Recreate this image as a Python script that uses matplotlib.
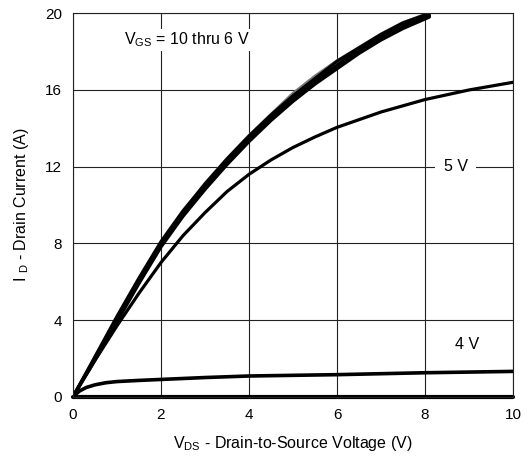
import numpy as np
import matplotlib.pyplot as plt

plt.rcParams['font.family'] = ['Liberation Sans', 'DejaVu Sans']
plt.rcParams['mathtext.fontset'] = 'custom'
plt.rcParams['mathtext.rm'] = 'Liberation Sans'
plt.rcParams['mathtext.it'] = 'Liberation Sans'

# V_DS sample points (V) and drain current curves (A)
vds_hi = [0, 0.5, 1, 1.5, 2, 2.5, 3, 3.5, 4, 4.5, 5, 5.5, 6, 6.5, 7, 7.5, 8.1]
id_10v = [0, 2.1, 4.2, 6.2, 8.1, 9.7, 11.1, 12.4, 13.6, 14.7, 15.7, 16.6, 17.5, 18.2, 18.9, 19.5, 20.0]
id_9v = [0, 2.0, 4.1, 6.1, 8.0, 9.6, 11.0, 12.3, 13.5, 14.6, 15.6, 16.5, 17.3, 18.1, 18.8, 19.4, 19.9]
id_8v = [0, 2.0, 4.0, 6.0, 7.9, 9.5, 10.9, 12.2, 13.4, 14.5, 15.5, 16.4, 17.2, 18.0, 18.7, 19.3, 19.85]
id_7v = [0, 1.9, 3.9, 5.9, 7.8, 9.4, 10.8, 12.1, 13.3, 14.4, 15.4, 16.3, 17.1, 17.9, 18.6, 19.2, 19.8]
id_6v = [0, 2.0, 4.0, 6.0, 7.9, 9.6, 11.1, 12.4, 13.6, 14.7, 15.8, 16.7, 17.5, 18.2, 18.9, 19.5, 20.0]

vds_5v = [0, 0.5, 1, 1.5, 2, 2.5, 3, 3.5, 4, 4.5, 5, 5.5, 6, 7, 8, 9, 10]
id_5v = [0, 1.9, 3.7, 5.4, 7.0, 8.4, 9.6, 10.7, 11.6, 12.35, 13.0, 13.55, 14.05, 14.85, 15.5, 16.0, 16.4]

vds_4v = [0, 0.15, 0.3, 0.5, 0.75, 1, 1.5, 2, 3, 4, 6, 8, 10]
id_4v = [0, 0.3, 0.48, 0.62, 0.73, 0.79, 0.85, 0.9, 1.0, 1.08, 1.15, 1.25, 1.32]

vds_3v = [0, 10]
id_3v = [0, 0]

fig = plt.figure(figsize=(5.32, 4.66), dpi=100)
ax = fig.add_axes([0.1372, 0.1487, 0.8271, 0.8228])

ax.plot(vds_hi, id_6v, color='#777777', lw=2.6, solid_capstyle='round')
for ys in [id_10v, id_9v, id_8v, id_7v]:
    ax.plot(vds_hi, ys, color='black', lw=2.2, solid_capstyle='round')
ax.plot(vds_5v, id_5v, color='black', lw=2.3, solid_capstyle='round')
ax.plot(vds_4v, id_4v, color='black', lw=2.6, solid_capstyle='round')
ax.plot(vds_3v, id_3v, color='black', lw=3.0, solid_capstyle='round', clip_on=False)

ax.set_xlim(0, 10)
ax.set_ylim(0, 20)
ax.set_xticks(range(0, 11, 2))
ax.set_yticks(range(0, 21, 4))
ax.tick_params(length=0, labelsize=11, pad=8)
ax.grid(True, color='#222222', lw=0.8)
ax.set_axisbelow(True)
for s in ax.spines.values():
    s.set_color('#222222')
    s.set_linewidth(0.8)

ax.set_xlabel('V$_{\\mathrm{DS}}$ - Drain-to-Source Voltage (V)', fontsize=11.5, labelpad=9)
ax.set_ylabel('I $_{\\mathrm{D}}$ - Drain Current (A)', fontsize=11.5, labelpad=10)

ax.text(1.15, 18.6, 'V$_{\\mathrm{GS}}$ = 10 thru 6 V', fontsize=11.5, va='center',
        bbox=dict(facecolor='white', edgecolor='none', pad=1))
ax.text(8.7, 12.0, '5 V', fontsize=11.5, va='center', ha='center',
        bbox=dict(facecolor='white', edgecolor='none', pad=6))
ax.text(8.95, 2.7, '4 V', fontsize=11.5, va='center', ha='center')

fig.savefig('out.png', dpi=100)
